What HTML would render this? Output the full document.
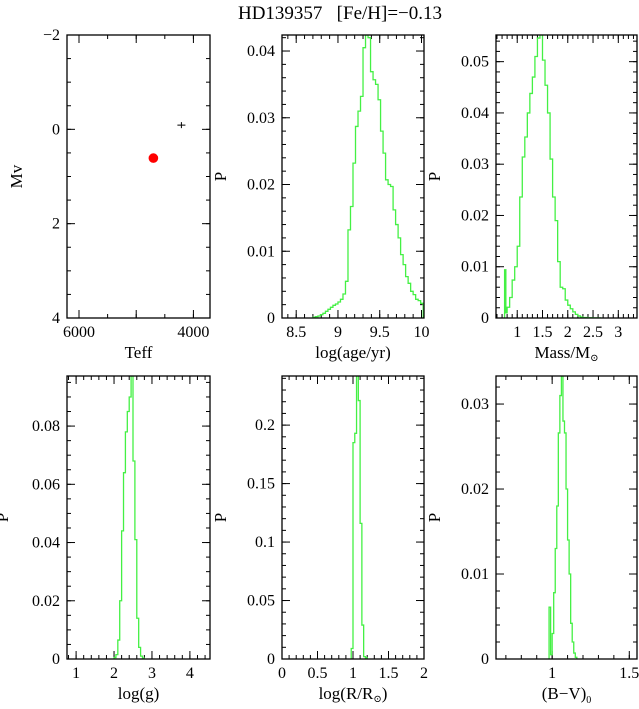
<!DOCTYPE html>
<html><head><meta charset="utf-8"><style>
html,body{margin:0;padding:0;background:#fff;}
svg{display:block;font-family:"Liberation Serif","DejaVu Serif",serif;}
</style></head><body>
<svg id="fig" width="639" height="709" viewBox="0 0 639 709" xmlns="http://www.w3.org/2000/svg">
<text x="340" y="19" font-size="19" text-anchor="middle" xml:space="preserve">HD139357   [Fe/H]=−0.13</text>
</svg>
<script>
// ---- data ----
const hrTeff = [4700];
const hrMv = [0.61];
const errTeff = [4210];
const errMv = [-0.09];

const ageBins = [8.70,8.73,8.76,8.79,8.82,8.85,8.88,8.91,8.94,8.97,9.00,9.03,9.06,9.09,9.12,9.15,9.18,9.21,9.24,9.27,9.30,9.33,9.36,9.39,9.42,9.45,9.48,9.51,9.54,9.57,9.60,9.63,9.66,9.69,9.72,9.75,9.78,9.81,9.84,9.87,9.90,9.93,9.96,9.99];
const ageP = [.0001,.0002,.0003,.0005,.0007,.0010,.0013,.0016,.0019,.0021,.0024,.0028,.0036,.0055,.0132,.0167,.0232,.0287,.0310,.0332,.0405,.0424,.0420,.0369,.0357,.0350,.0327,.0280,.0247,.0207,.0200,.0197,.0162,.0140,.0120,.0095,.0080,.0062,.0052,.0040,.0035,.0028,.0026,.0022];

const massBins = [0.75,0.775,0.80,0.85,0.90,0.95,1.00,1.05,1.10,1.15,1.20,1.25,1.30,1.35,1.40,1.45,1.50,1.55,1.60,1.65,1.70,1.75,1.80,1.85,1.90,1.95,2.00,2.05,2.10,2.15,2.20,2.25,2.30,2.35,2.40,2.45,2.50,2.55,2.60];
const massP = [.0094,.0010,.0021,.0040,.0074,.0100,.0140,.0236,.0314,.0353,.0400,.0438,.0470,.0510,.0546,.0560,.0503,.0454,.0400,.0310,.0236,.0190,.0110,.0060,.0057,.0035,.0025,.0018,.0012,.0007,.0004,.0002,.0001,.0001,.00005,.00005,.00003,.00002,.00001];

const loggBins = [2.00,2.05,2.10,2.15,2.20,2.25,2.30,2.35,2.40,2.45,2.50,2.55,2.60,2.65,2.70,2.75];
const loggP = [.0005,.0015,.0065,.020,.044,.064,.078,.085,.090,.099,.068,.041,.014,.004,.001,.0003];

const radBins = [0.975,1.00,1.025,1.05,1.075,1.10,1.125,1.15,1.175];
const radP = [.009,.185,.193,.250,.221,.116,.029,.002,.001];

const bvBins = [0.98,0.99,1.00,1.01,1.02,1.03,1.04,1.05,1.06,1.07,1.08,1.09,1.10,1.11,1.12,1.13,1.14,1.15];
const bvP = [.0061,.0005,.0030,.0078,.0130,.0180,.0266,.0310,.0340,.0280,.0266,.0200,.0140,.0100,.0042,.0020,.0007,.0002];

const ageTicks = ["8.5","9","9.5","10"];
const massTicks = ["1","1.5","2","2.5","3"];
const loggTicks = ["1","2","3","4"];
const radTicks = ["0","0.5","1","1.5","2"];
const bvTicks = ["1","1.5"];
const teffTicks = ["6000","4000"];
const mvTicks = ["−2","0","2","4"];
const ageYTicks = ["0","0.01","0.02","0.03","0.04"];
const massYTicks = ["0","0.01","0.02","0.03","0.04","0.05"];
const loggYTicks = ["0","0.02","0.04","0.06","0.08"];
const radYTicks = ["0","0.05","0.1","0.15","0.2"];
const bvYTicks = ["0","0.01","0.02","0.03"];

// ---- drawing ----
const NS = "http://www.w3.org/2000/svg";
const svg = document.getElementById("fig");
function mk(tag, attrs, parent){const e=document.createElementNS(NS,tag);for(const k in attrs)e.setAttribute(k,attrs[k]);(parent||svg).appendChild(e);return e;}
const num = s => parseFloat(s.replace("−","-"));

function panel(cfg){
  const g = mk("g",{});
  
  
  const {L,R,T,B,x0,x1,y0,y1} = cfg;
  const sx = v => L + (v-x0)/(x1-x0)*(R-L);
  const sy = v => B - (v-y0)/(y1-y0)*(B-T);
  cfg.sx=sx; cfg.sy=sy;
  const tk = mk("g",{stroke:"#000","stroke-width":1},g);
  
  
  function xt(step,len){const lo=Math.min(x0,x1),hi=Math.max(x0,x1);for(let v=Math.ceil(lo/step-1e-6)*step;v<=hi+1e-9;v+=step){const x=sx(v);mk("line",{x1:x,y1:B,x2:x,y2:B-len},tk);mk("line",{x1:x,y1:T,x2:x,y2:T+len},tk);}}
  function yt(step,len){const lo=Math.min(y0,y1),hi=Math.max(y0,y1);for(let v=Math.ceil(lo/step-1e-6)*step;v<=hi+1e-9;v+=step){const y=sy(v);mk("line",{x1:L,y1:y,x2:L+len,y2:y},tk);mk("line",{x1:R,y1:y,x2:R-len,y2:y},tk);}}
  xt(cfg.xmin,4); xt(cfg.xmaj,8); yt(cfg.ymin,4); yt(cfg.ymaj,8);
  cfg.xl.forEach(s=>{const t=mk("text",{x:sx(num(s)),y:B+19,"font-size":16,"text-anchor":"middle"},g);t.textContent=s;});
  cfg.yl.forEach(s=>{const t=mk("text",{x:L-7,y:sy(num(s))+5,"font-size":16,"text-anchor":"end"},g);t.textContent=s;});
  const xtl=mk("text",{x:(L+R)/2,y:B+40,"font-size":17,"text-anchor":"middle"},g);
  xtl.innerHTML=cfg.xt;
  
  
  const yx=cfg.ytx;
  const ytl=mk("text",{x:yx,y:(T+B)/2,"font-size":17,"text-anchor":"middle",transform:`rotate(-90 ${yx} ${(T+B)/2})`},g);
  ytl.textContent=cfg.yt;
  
  
  const cid="c"+cfg.name;
  const cp=mk("clipPath",{id:cid},g); mk("rect",{x:L,y:T,width:R-L,height:B-T},cp);
  cfg.clip=`url(#${cid})`;
  cfg.g=g;
  if(cfg.bins){
    const bins=cfg.bins, vals=cfg.vals;
    const w=i=> i<bins.length-1 ? bins[i+1]-bins[i] : bins[i]-bins[i-1];
    let d=`M${sx(bins[0])},${sy(0)}`;
    for(let i=0;i<bins.length;i++){d+=` L${sx(bins[i])},${sy(vals[i])} L${sx(bins[i]+w(i))},${sy(vals[i])}`;}
    d+=` L${sx(bins[bins.length-1]+w(bins.length-1))},${sy(0)}`;
    const p=mk("path",{d,fill:"none",stroke:"#44f044","stroke-width":1.3,"clip-path":cfg.clip},g);
    
    
  }
  const fr=mk("rect",{x:L,y:T,width:R-L,height:B-T,fill:"none",stroke:"#000","stroke-width":1.3},g);
  
  
  return cfg;
}

const hr2 = panel({name:"hr-diagram",L:67,R:210,T:35,B:318,x0:6210,x1:3710,y0:4,y1:-2,xmaj:1000,xmin:500,ymaj:2,ymin:0.5,xl:teffTicks,yl:mvTicks,xt:"Teff",yt:"Mv",ytx:22});
hrTeff.forEach((t,i)=>{const c=mk("circle",{cx:hr2.sx(t),cy:hr2.sy(hrMv[i]),r:4.8,fill:"#ff0000"},hr2.g);});
errTeff.forEach((t,i)=>{const x=hr2.sx(t),y=hr2.sy(errMv[i]);const e=mk("path",{d:`M${x-4},${y}H${x+4}M${x},${y-3}V${y+3}`,stroke:"#000","stroke-width":1},hr2.g);});

panel({name:"age-panel",L:282,R:424,T:35,B:318,x0:8.33,x1:10.03,y0:0,y1:0.0424,xmaj:0.5,xmin:0.1,ymaj:0.01,ymin:0.002,xl:ageTicks,yl:ageYTicks,xt:"log(age/yr)",yt:"P",ytx:226,bins:ageBins,vals:ageP});
panel({name:"mass-panel",L:496,R:637,T:35,B:318,x0:0.58,x1:3.37,y0:0,y1:0.0552,xmaj:0.5,xmin:0.1,ymaj:0.01,ymin:0.002,xl:massTicks,yl:massYTicks,xt:'Mass/M<tspan font-size="10" dy="3">⊙</tspan>',yt:"P",ytx:440,bins:massBins,vals:massP});
panel({name:"logg-panel",L:67,R:210,T:376,B:659,x0:0.76,x1:4.53,y0:0,y1:0.0972,xmaj:1,xmin:0.2,ymaj:0.02,ymin:0.005,xl:loggTicks,yl:loggYTicks,xt:"log(g)",yt:"P",ytx:8,bins:loggBins,vals:loggP});
panel({name:"radius-panel",L:282,R:424,T:376,B:659,x0:0,x1:2,y0:0,y1:0.242,xmaj:0.5,xmin:0.1,ymaj:0.05,ymin:0.01,xl:radTicks,yl:radYTicks,xt:'log(R/R<tspan font-size="10" dy="3">⊙</tspan><tspan dy="-3">)</tspan>',yt:"P",ytx:226,bins:radBins,vals:radP});
panel({name:"color-panel",L:496,R:637,T:376,B:659,x0:0.636,x1:1.55,y0:0,y1:0.0333,xmaj:0.5,xmin:0.1,ymaj:0.01,ymin:0.002,xl:bvTicks,yl:bvYTicks,xt:'(B−V)<tspan font-size="10" dy="4">0</tspan>',yt:"P",ytx:440,bins:bvBins,vals:bvP});
</script>
</body></html>
